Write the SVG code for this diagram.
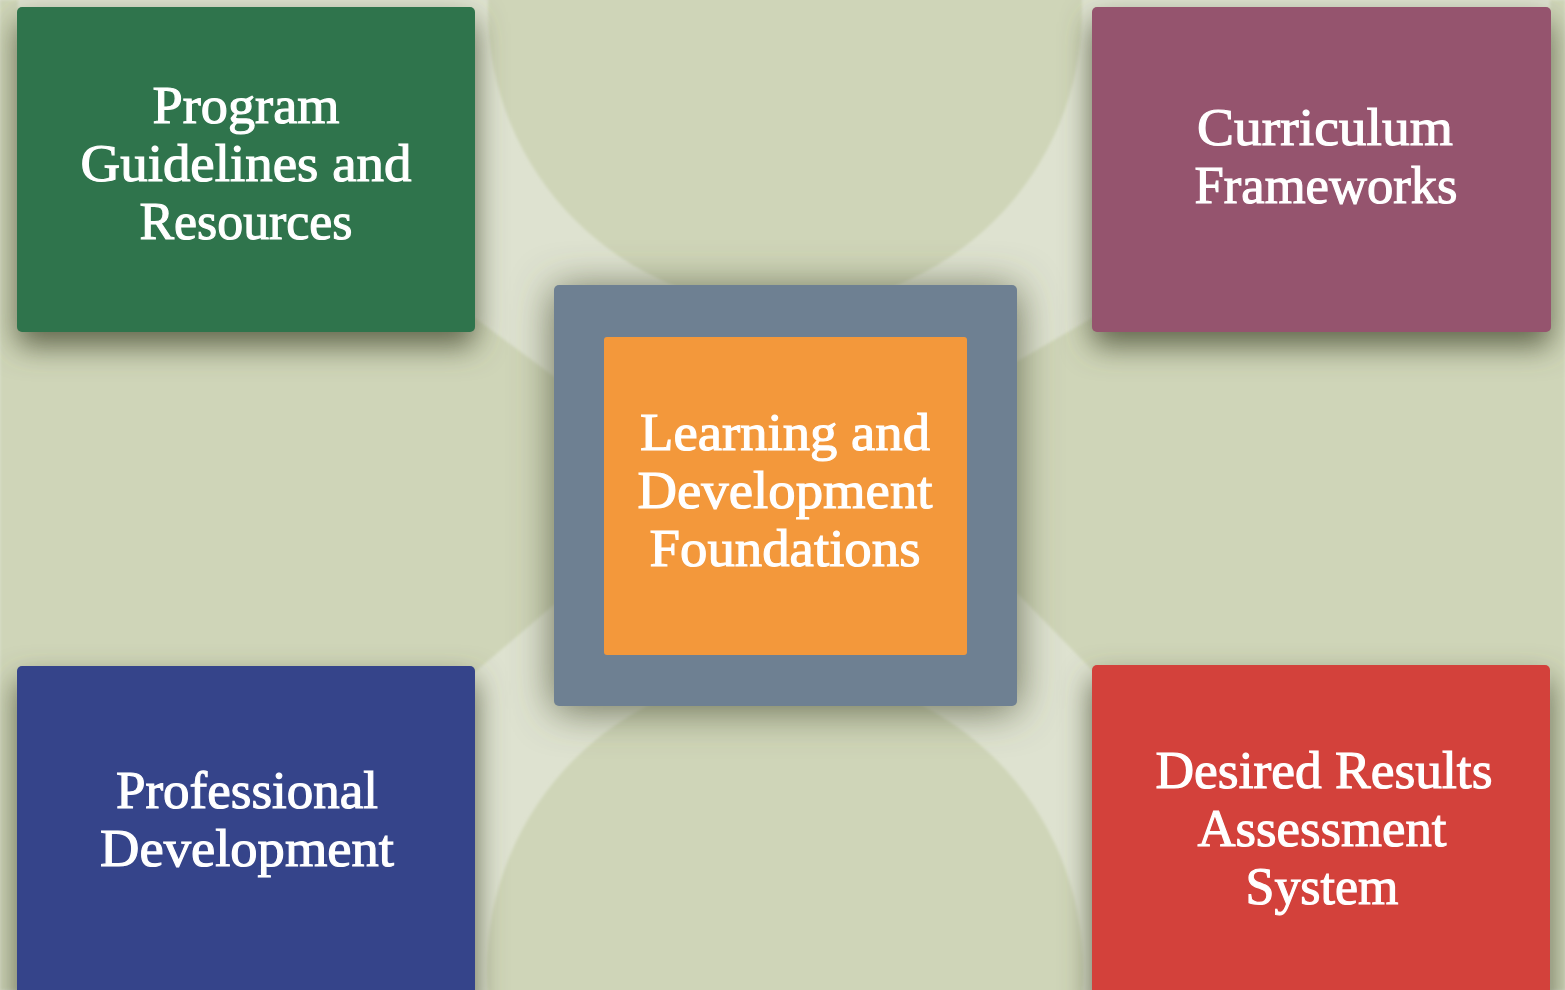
<svg xmlns="http://www.w3.org/2000/svg" width="1565" height="990" viewBox="0 0 1565 990">
  <defs>
    <filter id="shadow" x="-20%" y="-20%" width="140%" height="150%">
      <feGaussianBlur in="SourceAlpha" stdDeviation="15"/>
      <feOffset dx="0" dy="14" result="b"/>
      <feFlood flood-color="#555a40" flood-opacity="0.9"/>
      <feComposite in2="b" operator="in"/>
    </filter>
    <filter id="cshadow" x="-20%" y="-20%" width="140%" height="140%">
      <feGaussianBlur in="SourceAlpha" stdDeviation="20"/>
      <feOffset dx="0" dy="4" result="b"/>
      <feFlood flood-color="#555a40" flood-opacity="0.85"/>
      <feComposite in2="b" operator="in"/>
    </filter>
    <filter id="soft" x="-5%" y="-5%" width="110%" height="110%">
      <feGaussianBlur stdDeviation="1.5"/>
    </filter>
  </defs>
  <style>
    .base { fill: #CFD5B8; }
    .lbl { font-family: "Liberation Serif", "Times New Roman", serif; font-size: 52px; fill: #FFFFFF; stroke: #FFFFFF; stroke-width: 1.1px; text-anchor: middle; }
  </style>

  <g id="background">
    <rect x="0" y="0" width="1565" height="990" fill="#DEE2D0"/>
    <g filter="url(#soft)">
      <circle class="base" cx="785" cy="10" r="297"/>
      <circle class="base" cx="785" cy="970" r="298"/>
      <polygon class="base" points="0,318 475,318 556,378 556,603 475,672 0,672"/>
      <polygon class="base" points="1092,318 1016,362 1016,592 1094,672 1565,672 1565,318"/>
      <rect class="base" x="0" y="0" width="18" height="990"/>
      <rect class="base" x="1550" y="0" width="15" height="990"/>
    </g>
  </g>

  <g id="shadows">
    <rect x="17" y="7" width="458" height="325" rx="5" filter="url(#shadow)"/>
    <rect x="1092" y="7" width="459" height="325" rx="5" filter="url(#shadow)"/>
    <rect x="17" y="666" width="458" height="340" rx="5" filter="url(#shadow)"/>
    <rect x="1092" y="665" width="458" height="340" rx="5" filter="url(#shadow)"/>
    <rect x="554" y="285" width="463" height="421" rx="5" filter="url(#cshadow)"/>
  </g>

  <g id="node-program">
    <rect x="17" y="7" width="458" height="325" rx="5" fill="#2F744C"/>
    <text class="lbl" x="246" y="123" textLength="187" lengthAdjust="spacingAndGlyphs">Program</text>
    <text class="lbl" x="246" y="181" textLength="331" lengthAdjust="spacingAndGlyphs">Guidelines and</text>
    <text class="lbl" x="246" y="239" textLength="213" lengthAdjust="spacingAndGlyphs">Resources</text>
  </g>

  <g id="node-curriculum">
    <rect x="1092" y="7" width="459" height="325" rx="5" fill="#95546E"/>
    <text class="lbl" x="1325" y="145" textLength="256" lengthAdjust="spacingAndGlyphs">Curriculum</text>
    <text class="lbl" x="1326" y="203" textLength="263" lengthAdjust="spacingAndGlyphs">Frameworks</text>
  </g>

  <g id="node-professional">
    <rect x="17" y="666" width="458" height="340" rx="5" fill="#35448A"/>
    <text class="lbl" x="247" y="808" textLength="262" lengthAdjust="spacingAndGlyphs">Professional</text>
    <text class="lbl" x="247" y="866" textLength="294" lengthAdjust="spacingAndGlyphs">Development</text>
  </g>

  <g id="node-desired">
    <rect x="1092" y="665" width="458" height="340" rx="5" fill="#D3413B"/>
    <text class="lbl" x="1324" y="788" textLength="337" lengthAdjust="spacingAndGlyphs">Desired Results</text>
    <text class="lbl" x="1322" y="846" textLength="249" lengthAdjust="spacingAndGlyphs">Assessment</text>
    <text class="lbl" x="1322" y="904" textLength="153" lengthAdjust="spacingAndGlyphs">System</text>
  </g>

  <g id="node-center">
    <rect x="554" y="285" width="463" height="421" rx="5" fill="#6E8092"/>
    <rect x="604" y="337" width="363" height="318" rx="3" fill="#F3983B"/>
    <text class="lbl" x="785" y="450" textLength="290" lengthAdjust="spacingAndGlyphs">Learning and</text>
    <text class="lbl" x="785" y="508" textLength="295" lengthAdjust="spacingAndGlyphs">Development</text>
    <text class="lbl" x="785" y="566" textLength="271" lengthAdjust="spacingAndGlyphs">Foundations</text>
  </g>
</svg>
